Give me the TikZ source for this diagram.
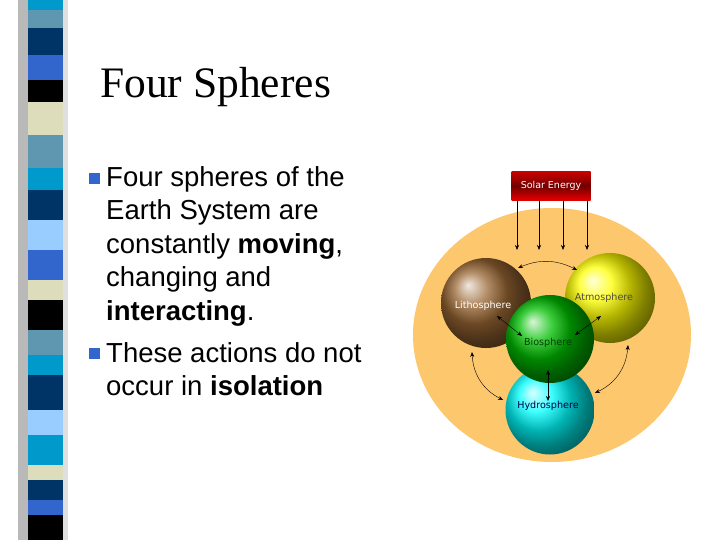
\documentclass[tikz,border=0pt]{standalone}
\usepackage{fontspec}
\setmainfont{Liberation Serif}
\newfontfamily\bodyfont{Liberation Sans}
\newfontfamily\dejavu{DejaVu Sans}
\usetikzlibrary{arrows.meta,shadings}
\definecolor{cA}{HTML}{0099CC}\definecolor{cB}{HTML}{5F96B0}\definecolor{cC}{HTML}{003366}
\definecolor{cD}{HTML}{3366CC}\definecolor{cE}{HTML}{000000}\definecolor{cF}{HTML}{DDDDBB}
\definecolor{cG}{HTML}{99CCFF}\definecolor{eggc}{HTML}{FDC76E}\definecolor{bullc}{HTML}{3366CC}
\tikzset{
 sphere/.style={circle,minimum size=#1,inner sep=0pt},
 lbl/.style={font=\dejavu\fontsize{9.6}{11}\selectfont},
 inter/.style={{Stealth[length=5pt,width=4pt]}-{Stealth[length=5pt,width=4pt]},thin},
 sun/.style={-{Stealth[length=5pt,width=4pt]},thin},
 body/.style={font=\bodyfont\fontsize{27.5}{33}\selectfont,anchor=base west,inner sep=0pt},
 bull/.style={fill=bullc,minimum size=11pt,inner sep=0pt}
}
\begin{document}
\begin{tikzpicture}[x=1pt,y=-1pt]
\useasboundingbox (0,0) rectangle (720,540);
\fill[white] (0,0) rectangle (720,540);
\fill[gray!55] (18,0) rectangle (28,540);
\fill[gray!25] (63,0) rectangle (68,540);
\foreach \a/\b/\c in {0/10/cA,10/28/cB,28/55/cC,55/80/cD,80/102/cE,102/135/cF,135/168/cB,168/190/cA,190/220/cC,220/250/cG,250/280/cD,280/300/cF,300/330/cE,330/355/cB,355/375/cA,375/410/cC,410/435/cG,435/465/cA,465/480/cF,480/500/cC,500/515/cD,515/540/cE}
  \fill[\c] (28,\a) rectangle (63,\b);
\node[anchor=base west,inner sep=0pt,font=\fontsize{43.5}{48}\selectfont] (title) at (100,98) {Four Spheres};
\node[bull] (b1) at (94,179) {};
\node[bull] (b2) at (94,353) {};
\node[body] (t1) at (106,187) {Four spheres of the};
\node[body] (t2) at (106,220) {Earth System are};
\node[body] (t3) at (106,253) {constantly \textbf{moving},};
\node[body] (t4) at (106,286) {changing and};
\node[body] (t5) at (106,320) {\textbf{interacting}.};
\node[body] (t6) at (106,362) {These actions do not};
\node[body] (t7) at (106,395) {occur in \textbf{isolation}};
\fill[eggc] (552,335) ellipse [x radius=139, y radius=127];
\node[minimum width=79,minimum height=29,inner sep=0pt,top color=red!80!black,bottom color=red!90!black,middle color=red!45!black,shading angle=0] (solar) at (551,186) {};
\node[font=\dejavu\fontsize{9.5}{11}\selectfont,text=white] at (solar) {Solar Energy};
\node[sphere=89,ball color=cyan] (hydro) at (550,410) {};
\node[sphere=90,ball color=brown!80!black] (litho) at (486,303) {};
\node[sphere=90,ball color=yellow] (atmo) at (610,298) {};
\node[sphere=88,ball color=green!75!black] (bio) at (550,339) {};
\node[lbl,text=white] at (483,306) {Lithosphere};
\node[lbl,text=black!80!yellow] at (604,298) {Atmosphere};
\node[lbl,text=green!25!black] at (548,343) {Biosphere};
\node[lbl,text=blue!30!black] at (548,406) {Hydrosphere};
\foreach \x in {517,539,563,587} \draw[sun] (\x,201) -- (\x,250);
\coordinate (c1) at (518,268); \coordinate (c2) at (577,270);
\draw[inter] (c1) to[bend left=25] (c2);
\coordinate (c3) at (497,316); \coordinate (c4) at (522,336);
\draw[inter] (c3) -- (c4);
\coordinate (c5) at (575,335); \coordinate (c6) at (601,316);
\draw[inter] (c5) -- (c6);
\coordinate (c7) at (548,370); \coordinate (c8) at (548,401);
\draw[inter] (c7) -- (c8);
\coordinate (c9) at (472,352); \coordinate (c10) at (503,400);
\draw[inter] (c9) to[bend right=30] (c10);
\coordinate (c11) at (628,345); \coordinate (c12) at (595,393);
\draw[inter] (c11) to[bend left=30] (c12);
\end{tikzpicture}
\end{document}
